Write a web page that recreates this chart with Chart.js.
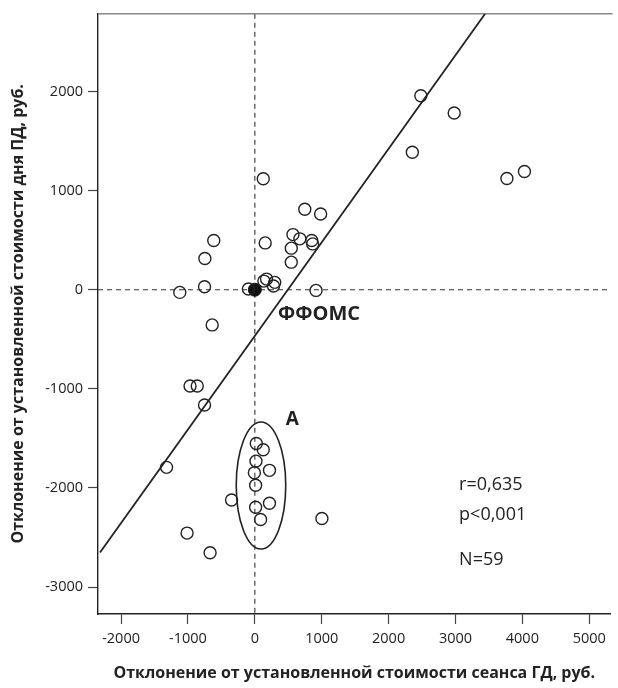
<!DOCTYPE html>
<html>
<head>
<meta charset="utf-8">
<script src="https://cdn.jsdelivr.net/npm/chart.js@4.4.1/dist/chart.umd.min.js"></script>
<style>
    body { margin: 0; background: #fff; }
    canvas { display: block; }
</style>
</head>
<body>
<canvas id="myChart" width="618" height="688"></canvas>
<script>
// open circles: deviation of HD session cost (x) vs PD day cost (y)
const xValues = [126, 747, 984, -614, 155, 570, 673, 851, 865, 545, -747, 545, 175, 136, 298, 279, -752, -1122, -96, 915,
    2482, 2981, 2355, 3769, 4031,
    -638, -969, -861, -752, -1320, 22, 126, 17, -7, 219, 12, -348, 219, 12, 86, 1003, -1013, -669];
const yValues = [1119, 811, 764, 496, 472, 556, 513, 496, 462, 419, 315, 278, 107, 87, 74, 37, 30, -27, 7, -7,
    1957, 1782, 1387, 1122, 1192,
    -355, -971, -971, -1163, -1792, -1551, -1615, -1729, -1846, -1822, -1973, -2121, -2154, -2194, -2318, -2308, -2455, -2653];

// ФФОМС reference point
const refX = [0];
const refY = [0];

// regression line end points
const lineX = [-2315, 3443];
const lineY = [-2651, 2784];

const xTicks = [-2000, -1000, 0, 1000, 2000, 3000, 4000, 5000];
const yTicks = [-3000, -2000, -1000, 0, 1000, 2000];

const xTitle = 'Отклонение от установленной стоимости сеанса ГД, руб.';
const yTitle = 'Отклонение от установленной стоимости дня ПД, руб.';

const stats = ['r=0,635', 'p<0,001', 'N=59'];

const openPoints = xValues.map((x, i) => ({ x: x, y: yValues[i] }));
const refPoints = refX.map((x, i) => ({ x: x, y: refY[i] }));
const linePoints = lineX.map((x, i) => ({ x: x, y: lineY[i] }));

const fontName = '"Open Sans", "DejaVu Sans", sans-serif';

const decorPlugin = {
    id: 'decor',
    beforeDatasetsDraw(chart) {
        const c = chart.ctx;
        const a = chart.chartArea;
        const sx = chart.scales.x;
        const sy = chart.scales.y;
        c.save();
        // zero lines
        c.strokeStyle = '#333';
        c.lineWidth = 1.1;
        c.setLineDash([5, 4]);
        c.beginPath();
        c.moveTo(sx.getPixelForValue(0), a.top);
        c.lineTo(sx.getPixelForValue(0), a.bottom);
        c.moveTo(a.left, sy.getPixelForValue(0));
        c.lineTo(a.right, sy.getPixelForValue(0));
        c.stroke();
        c.setLineDash([]);
        // top frame line
        c.strokeStyle = '#888';
        c.lineWidth = 1.5;
        c.beginPath();
        c.moveTo(a.left, a.top);
        c.lineTo(a.right + 2, a.top);
        c.stroke();
        c.restore();
    },
    afterDatasetsDraw(chart) {
        const c = chart.ctx;
        const sx = chart.scales.x;
        const sy = chart.scales.y;
        c.save();
        // group A ellipse
        const cx = sx.getPixelForValue(92);
        const cy = sy.getPixelForValue(-1975);
        const rx = sx.getPixelForValue(92 + 370) - cx;
        const ry = cy - sy.getPixelForValue(-1975 + 641);
        c.strokeStyle = '#222';
        c.lineWidth = 1.6;
        c.beginPath();
        c.ellipse(cx, cy, rx, ry, 0, 0, Math.PI * 2);
        c.stroke();

        c.fillStyle = '#222';
        c.textBaseline = 'middle';
        c.font = 'bold 20px ' + fontName;
        c.textAlign = 'left';
        c.fillText('ФФОМС', sx.getPixelForValue(348), sy.getPixelForValue(-251));
        c.font = 'bold 19px ' + fontName;
        c.textAlign = 'center';
        c.fillText('A', sx.getPixelForValue(560), sy.getPixelForValue(-1307));

        c.font = '18px ' + fontName;
        c.textAlign = 'left';
        c.fillText(stats[0], sx.getPixelForValue(3054), sy.getPixelForValue(-1970));
        c.fillText(stats[1], sx.getPixelForValue(3054), sy.getPixelForValue(-2271));
        c.fillText(stats[2], sx.getPixelForValue(3054), sy.getPixelForValue(-2724));
        c.restore();
    }
};

const cfg = {
    type: 'scatter',
    data: {
        datasets: [{
            data: openPoints,
            pointRadius: 6,
            borderWidth: 1.4,
            borderColor: '#222',
            backgroundColor: 'rgba(255,255,255,0)'
        }, {
            data: refPoints,
            pointRadius: 6.5,
            borderWidth: 1,
            borderColor: '#111',
            backgroundColor: '#111'
        }, {
            type: 'line',
            data: linePoints,
            showLine: true,
            pointRadius: 0,
            borderWidth: 1.8,
            borderColor: '#222',
            fill: false
        }]
    },
    options: {
        responsive: false,
        animation: false,
        devicePixelRatio: 1,
        layout: { padding: { top: 12, right: 1, left: 0, bottom: 0 } },
        plugins: {
            legend: { display: false },
            tooltip: { enabled: false }
        },
        scales: {
            x: {
                type: 'linear',
                min: -2345,
                max: 5318,
                afterBuildTicks: function (scale) {
                    scale.ticks = xTicks.map(v => ({ value: v }));
                },
                afterFit: function (scale) {
                    scale.height = 74;
                },
                grid: {
                    drawOnChartArea: false,
                    drawTicks: true,
                    tickLength: 10,
                    tickColor: '#444',
                    tickWidth: 1.2
                },
                border: { display: true, color: '#222', width: 1.4 },
                ticks: {
                    color: '#222',
                    padding: 6,
                    maxRotation: 0,
                    callback: function (value) {
                        return String(value);
                    },
                    font: { family: fontName, size: 14.5 }
                },
                title: {
                    display: true,
                    text: xTitle,
                    color: '#222',
                    padding: { top: 0, bottom: 5 },
                    font: { family: fontName, size: 16, weight: 'bold' }
                }
            },
            y: {
                type: 'linear',
                min: -3271,
                max: 2784,
                afterBuildTicks: function (scale) {
                    scale.ticks = yTicks.map(v => ({ value: v }));
                },
                afterFit: function (scale) {
                    scale.width = 98;
                },
                grid: {
                    drawOnChartArea: false,
                    drawTicks: true,
                    tickLength: 10,
                    tickColor: '#444',
                    tickWidth: 1.2
                },
                border: { display: true, color: '#222', width: 1.4 },
                ticks: {
                    color: '#222',
                    padding: 5,
                    callback: function (value) {
                        return String(value);
                    },
                    font: { family: fontName, size: 14.5 }
                },
                title: {
                    display: true,
                    text: yTitle,
                    color: '#222',
                    padding: { top: 9, bottom: 0 },
                    font: { family: fontName, size: 16, weight: 'bold' }
                }
            }
        }
    },
    plugins: [decorPlugin]
};

const ctx = document.getElementById('myChart');
let myChart = new Chart(ctx, cfg);
</script>
</body>
</html>
